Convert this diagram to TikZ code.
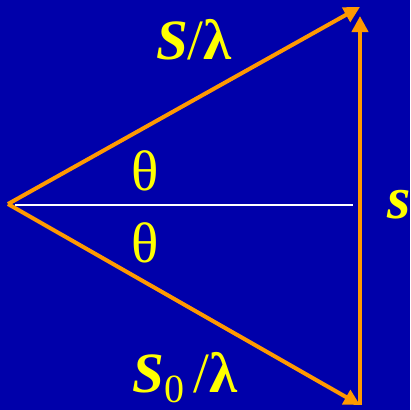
\documentclass[tikz,border=0pt]{standalone}
\usepackage{fontspec}
\setmainfont{Liberation Serif}
\usetikzlibrary{arrows.meta}
\definecolor{tlo}{RGB}{0,0,170}
\definecolor{wiazka}{RGB}{255,153,0}
\definecolor{napis}{RGB}{255,255,0}
\newcommand{\duzy}{\fontsize{57}{60}\selectfont}
\tikzset{
  wektor/.style={draw=wiazka,line width=4pt,-{Triangle[length=16pt,width=16pt]}},
  etykieta/.style={text=napis,inner sep=0pt,anchor=base,font=\duzy}
}

\begin{document}
\begin{tikzpicture}[x=1pt,y=-1pt]
% ---- TLO ----
\fill[tlo] (0,0) rectangle (410,410);
\useasboundingbox (0,0) rectangle (410,410);
% ---- WIERZCHOLKI ----
\coordinate (zrodlo) at (8,204);
\coordinate (gora) at (360,7);
\coordinate (dol) at (360,405);
\coordinate (osL) at (15,205);
\coordinate (osP) at (353,205);
% ---- WEKTORY ----
\draw[white,line width=1.6pt] (osL) -- (osP);
\draw[wektor] (zrodlo) -- (gora);
\draw[wektor] (zrodlo) -- (dol);
\draw[wektor,shorten >=9pt] (dol) -- (gora);
% ---- OPISY ----
\node[etykieta] (sLam) at (194,59) {{\bfseries\itshape S}/{\bfseries λ}};
\node[etykieta] (s0Lam) at (185,392) {{\bfseries\itshape S}\raisebox{-10pt}[\height][0pt]{\fontsize{40}{40}\selectfont 0}\,/{\bfseries λ}};
\node[etykieta] (katG) at (145,190) {θ};
\node[etykieta] (katD) at (145,262) {θ};
\node[etykieta,anchor=base west,font=\fontsize{60}{60}\selectfont] (sWek) at (387,218) {\bfseries\itshape s};
\end{tikzpicture}
\end{document}
